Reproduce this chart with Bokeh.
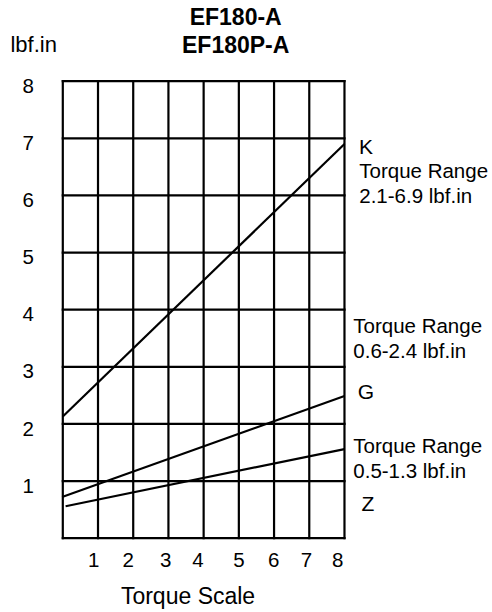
from bokeh.plotting import figure
from bokeh.models import Range1d
from bokeh.core.properties import value
from bokeh.embed import file_html
from bokeh.resources import INLINE

# ---- data ----
grid_x = [0, 1, 2, 3, 4, 5, 6, 7, 8]
grid_y = [0, 1, 2, 3, 4, 5, 6, 7, 8]
y_tick_values = [1, 2, 3, 4, 5, 6, 7, 8]
y_tick_labels = ["1", "2", "3", "4", "5", "6", "7", "8"]
x_tick_positions = [0.88, 1.86, 2.92, 3.84, 5.0, 5.99, 6.92, 7.81]
x_tick_labels = ["1", "2", "3", "4", "5", "6", "7", "8"]

k_x = [0, 8]
k_y = [2.13, 6.9]
g_x = [-0.02, 8]
g_y = [0.72, 2.49]
z_x = [0.08, 8]
z_y = [0.56, 1.56]

FONT = "Liberation Sans"
LW = 2.2
TXT = "20.5px"

# frame covers the whole canvas; data (0,0) sits at page pixel (62.3, 537.7)
p = figure(width=492, height=612, output_backend="svg", toolbar_location=None,
           x_axis_location=None, y_axis_location=None,
           x_range=Range1d(-1.7694, 12.204), y_range=Range1d(-1.3007, 9.4127),
           min_border=0)
p.outline_line_color = None
p.background_fill_color = "white"
p.border_fill_color = "white"
p.grid.visible = False

# grid lines
n = len(grid_x)
p.segment(x0=grid_x, y0=[grid_y[0]] * n, x1=grid_x, y1=[grid_y[-1]] * n,
          line_color="black", line_width=LW, line_cap="square")
m = len(grid_y)
p.segment(x0=[grid_x[0]] * m, y0=grid_y, x1=[grid_x[-1]] * m, y1=grid_y,
          line_color="black", line_width=LW, line_cap="square")

# torque lines
for xs, ys in ((k_x, k_y), (g_x, g_y), (z_x, z_y)):
    p.line(xs, ys, line_color="black", line_width=LW)

# y tick labels (sit slightly below their grid lines, as in the original)
p.text(x=[-0.824] * len(y_tick_values), y=[v - 0.08 for v in y_tick_values],
       text=y_tick_labels, text_align="right", text_baseline="middle",
       text_font=value(FONT), text_font_size=TXT, text_color="black")

# x tick labels
p.text(x=x_tick_positions, y=[-0.39] * len(x_tick_positions), text=x_tick_labels,
       text_align="center", text_baseline="middle",
       text_font=value(FONT), text_font_size=TXT, text_color="black")


def lab(x, y, text, size=TXT, align="left", bold=False):
    p.text(x=[x], y=[y], text=[text], text_font=value(FONT), text_font_size=size,
           text_align=align, text_baseline="middle", text_color="black",
           text_font_style="bold" if bold else "normal")


# titles
lab(4.91, 9.12, "EF180-A", size="23px", align="center", bold=True)
lab(4.91, 8.625, "EF180P-A", size="23px", align="center", bold=True)
lab(-1.486, 8.64, "lbf.in", size="22px")
lab(3.557, -1.02, "Torque Scale", size="23px", align="center")

# right-side annotations
lab(8.41, 6.86, "K", size="21px")
lab(8.42, 6.437, "Torque Range")
lab(8.42, 6.0, "2.1-6.9 lbf.in")
lab(8.25, 3.723, "Torque Range")
lab(8.25, 3.286, "0.6-2.4 lbf.in")
lab(8.38, 2.572, "G", size="21px")
lab(8.25, 1.623, "Torque Range")
lab(8.25, 1.186, "0.5-1.3 lbf.in")
lab(8.48, 0.616, "Z", size="21px")

open("out.html", "w").write(file_html(p, INLINE))
